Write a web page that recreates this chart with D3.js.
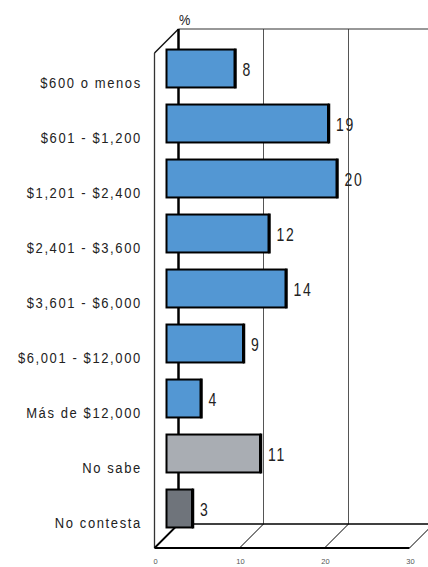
<!DOCTYPE html>
<html><head><meta charset="utf-8">
<script src="https://cdn.jsdelivr.net/npm/d3@7"></script>
<style>body{margin:0;background:#fff}svg{display:block}</style>
</head><body>
<script>
const categories = ["$600 o menos","$601 - $1,200","$1,201 - $2,400","$2,401 - $3,600","$3,601 - $6,000","$6,001 - $12,000","Más de $12,000","No sabe","No contesta"];
const values = [8,19,20,12,14,9,4,11,3];
const barColors = ["#5397d3","#5397d3","#5397d3","#5397d3","#5397d3","#5397d3","#5397d3","#a9adb3","#6f747b"];
const ticks = [0,10,20,30];
const axisTitle = "%";

const W=428,H=567;
const svg=d3.select("body").append("svg").attr("width",W).attr("height",H);
const x0=154.5, depth=24, floorY=548, topY=53;
const x=d3.scaleLinear().domain([0,30]).range([0,255]);
const y=d3.scaleBand().domain(categories).range([topY-depth/2, floorY-depth/2]).paddingInner(0.31).paddingOuter(0.155);
const backX=x0+depth, backTop=topY-depth, backBot=floorY-depth;
const midX=x0+depth/2;
const FONT="Liberation Sans, Arial, sans-serif";

// back wall gridlines
svg.selectAll(".grid").data(ticks.slice(1)).enter().append("line")
 .attr("x1",d=>backX+x(d)).attr("x2",d=>backX+x(d)).attr("y1",backTop).attr("y2",backBot)
 .attr("stroke","#555").attr("stroke-width",1);
svg.append("line").attr("x1",backX).attr("x2",backX+x(30)).attr("y1",backTop).attr("y2",backTop).attr("stroke","#333").attr("stroke-width",1.2);
// left wall
svg.append("line").attr("x1",x0).attr("x2",backX).attr("y1",topY).attr("y2",backTop).attr("stroke","#111").attr("stroke-width",1.5);
svg.append("line").attr("x1",x0).attr("x2",x0).attr("y1",topY).attr("y2",floorY).attr("stroke","#333").attr("stroke-width",1.3);
svg.append("line").attr("x1",backX).attr("x2",backX).attr("y1",backTop).attr("y2",backBot).attr("stroke","#000").attr("stroke-width",2.5);
// floor
svg.append("line").attr("x1",backX).attr("x2",backX+x(30)).attr("y1",backBot).attr("y2",backBot).attr("stroke","#000").attr("stroke-width",1.6);
svg.selectAll(".fd").data(ticks).enter().append("line")
 .attr("x1",d=>x0+x(d)).attr("x2",d=>x0+x(d)+depth).attr("y1",floorY).attr("y2",backBot)
 .attr("stroke","#000").attr("stroke-width",d=>d===0?1.8:1);
svg.append("line").attr("x1",x0).attr("x2",x0+x(30)).attr("y1",floorY).attr("y2",floorY).attr("stroke","#000").attr("stroke-width",2);

// bars
const g=svg.append("g");
g.selectAll("rect").data(values).enter().append("rect")
 .attr("x",midX).attr("y",(d,i)=>y(categories[i]))
 .attr("width",d=>x(d)).attr("height",y.bandwidth())
 .attr("fill",(d,i)=>barColors[i]).attr("stroke","#000").attr("stroke-width",2);
g.selectAll(".sh").data(values).enter().append("line")
 .attr("x1",d=>midX+x(d)+1).attr("x2",d=>midX+x(d)+1)
 .attr("y1",(d,i)=>y(categories[i])-1).attr("y2",(d,i)=>y(categories[i])+y.bandwidth()+1)
 .attr("stroke","#000").attr("stroke-width",2.5);

// value labels (condensed look)
g.selectAll(".vl").data(values).enter().append("text")
 .attr("transform",(d,i)=>`translate(${midX+x(d)+8},${y(categories[i])+y.bandwidth()/2+3}) scale(0.8,1)`)
 .attr("dominant-baseline","middle")
 .attr("font-family",FONT)
 .attr("font-size",17.5).attr("letter-spacing",2.2).attr("fill","#222")
 .text(d=>d);

// category labels
svg.selectAll(".cl").data(categories).enter().append("text")
 .attr("transform",d=>`translate(141.8,${y(d)+y.bandwidth()/2+15.5}) scale(0.84,1)`)
 .attr("text-anchor","end").attr("dominant-baseline","middle")
 .attr("font-family",FONT)
 .attr("font-size",15.5).attr("letter-spacing",1.9).attr("fill","#222")
 .text(d=>d);

// tick labels
svg.selectAll(".tl").data(ticks).enter().append("text")
 .attr("x",d=>x0+x(d)+1).attr("y",564)
 .attr("text-anchor","middle")
 .attr("font-family",FONT)
 .attr("font-size",7.5).attr("fill","#555")
 .text(d=>d);

svg.append("text").attr("transform","translate(179,25) scale(0.85,1)")
 .attr("font-family",FONT).attr("font-size",15).attr("fill","#222")
 .text(axisTitle);
</script>
</body></html>
